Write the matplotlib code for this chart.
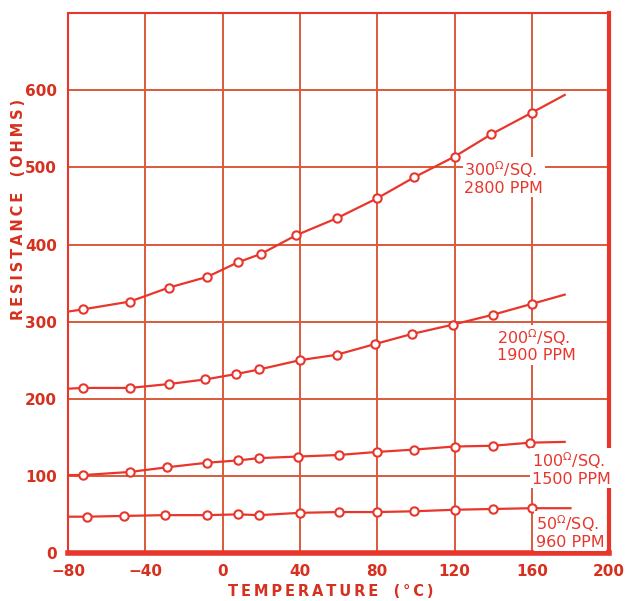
import numpy as np
import matplotlib
matplotlib.use('Agg')
import matplotlib.pyplot as plt

# values
t300 = [-72, -48, -28, -8, 8, 20, 38, 59, 80, 99, 120, 139, 160]
r300 = [316, 326, 344, 358, 377, 388, 412, 434, 460, 487, 514, 543, 571]
t200 = [-72, -48, -28, -9, 7, 19, 40, 59, 79, 98, 119, 140, 160]
r200 = [214, 214, 219, 225, 232, 238, 250, 257, 271, 284, 296, 309, 323]
t100 = [-72, -48, -29, -8, 8, 19, 39, 60, 80, 99, 120, 140, 159]
r100 = [101, 105, 111, 117, 120, 123, 125, 127, 131, 134, 138, 139, 143]
t50 = [-70, -51, -30, -8, 8, 19, 40, 60, 80, 99, 120, 140, 160]
r50 = [47, 48, 49, 49, 50, 49, 52, 53, 53, 54, 56, 57, 58]

# where each drawn curve starts and stops (temp, ohms)
ends300 = [(-80, 313), (177, 594)]
ends200 = [(-80, 213), (177, 335)]
ends100 = [(-80, 101), (177, 144)]
ends50 = [(-80, 47), (180, 58)]

labels = ['300', '200', '100', '50']
ppm = ['2800 PPM', '1900 PPM', '1500 PPM', '960 PPM']
label_pos = [(125, 510), (142, 293), (160, 133), (162, 51)]

xticks = [-80, -40, 0, 40, 80, 120, 160, 200]
yticks = [0, 100, 200, 300, 400, 500, 600]

red = '#e8362c'
grid_red = '#dc5a3c'
text_red = '#d6301e'

def spaced(s):
    return '\u2009'.join(s)

fig = plt.figure(figsize=(6.27, 6.01), dpi=100)
ax = fig.add_axes([0.1085, 0.08, 0.863, 0.898])

series = [(t300, r300, ends300), (t200, r200, ends200),
          (t100, r100, ends100), (t50, r50, ends50)]
for t, r, ends in series:
    lx = [ends[0][0]] + t + [ends[1][0]]
    ly = [ends[0][1]] + r + [ends[1][1]]
    ax.plot(lx, ly, color=red, lw=1.6, zorder=3)
    ax.plot(t, r, 'o', ms=6, mfc='white', mec=red, mew=1.5, zorder=4)

for (x, y), lab, p in zip(label_pos, labels, ppm):
    ax.text(x, y, lab + r'$^{\Omega}$/SQ.' + '\n' + p, color=red, fontsize=11.5,
            ha='left', va='top', linespacing=1.05, zorder=5,
            bbox=dict(facecolor='white', edgecolor='none', pad=1))

ax.set_xlim(-80, 200)
ax.set_ylim(0, 700)
ax.set_xticks(xticks)
ax.set_yticks(yticks)
ax.grid(True, color=grid_red, lw=1.4, zorder=1)
ax.tick_params(length=0, labelcolor=text_red, labelsize=11, pad=8)
for lab in ax.get_xticklabels() + ax.get_yticklabels():
    lab.set_fontweight('bold')

for side, w in [('left', 1.5), ('top', 1.5), ('right', 3.0), ('bottom', 4.0)]:
    ax.spines[side].set_color(red)
    ax.spines[side].set_linewidth(w)

fig.text(0.527, 0.016, spaced('TEMPERATURE') + '   ' + spaced('(°C)'),
         color=text_red, fontsize=10.5, fontweight='bold', ha='center', va='center')
fig.text(0.03, 0.652, spaced('RESISTANCE') + '   ' + spaced('(OHMS)'),
         color=text_red, fontsize=10.5, fontweight='bold', ha='center',
         va='center', rotation=90)

plt.savefig('out.png', dpi=100)
